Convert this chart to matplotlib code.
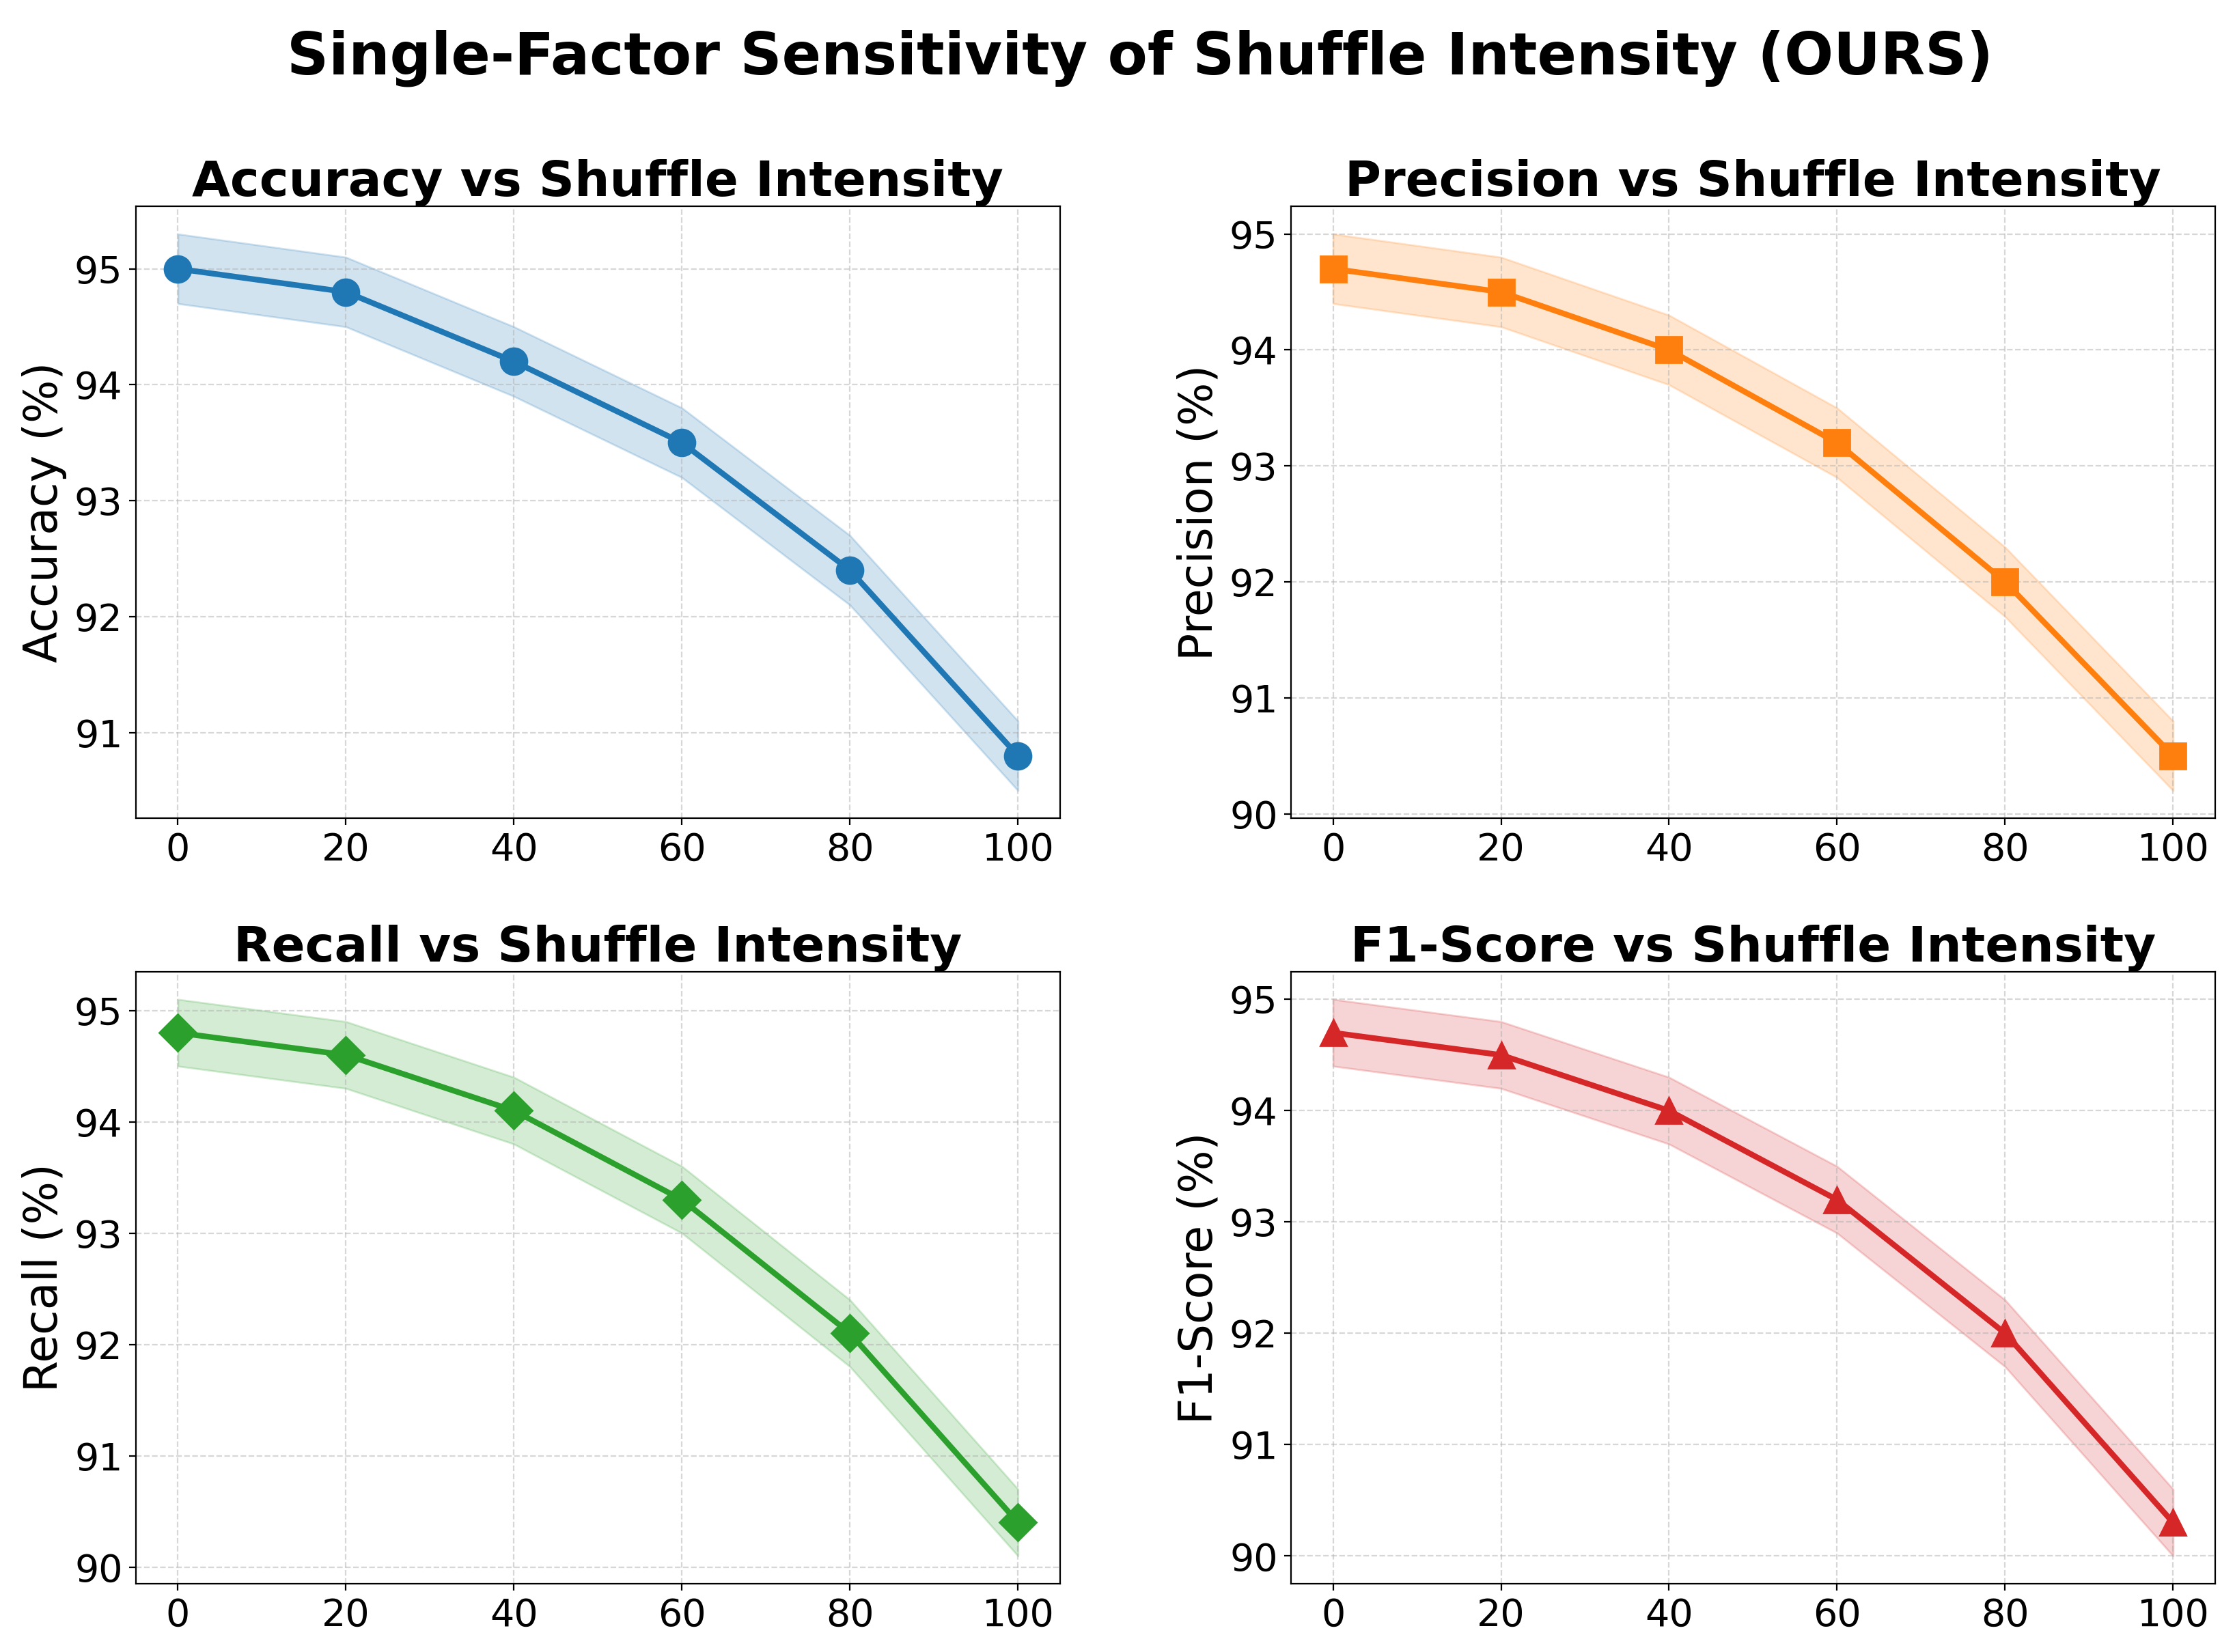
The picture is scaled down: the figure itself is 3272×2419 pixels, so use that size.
import numpy as np
import matplotlib
matplotlib.use("Agg")
import matplotlib.pyplot as plt

# Data
intensity = [0, 20, 40, 60, 80, 100]
accuracy = [95.0, 94.8, 94.2, 93.5, 92.4, 90.8]
precision = [94.7, 94.5, 94.0, 93.2, 92.0, 90.5]
recall = [94.8, 94.6, 94.1, 93.3, 92.1, 90.4]
f1_score = [94.7, 94.5, 94.0, 93.2, 92.0, 90.3]
band = 0.3

metrics = ["Accuracy", "Precision", "Recall", "F1-Score"]
series = [accuracy, precision, recall, f1_score]
colors = ["#1f77b4", "#ff7f0e", "#2ca02c", "#d62728"]
markers = ["o", "s", "D", "^"]


def main():
    fig, axes = plt.subplots(2, 2, figsize=(16.365, 12.095), dpi=200)
    fig.subplots_adjust(left=0.0608, right=0.9908, top=0.8752, bottom=0.0413,
                        wspace=0.25, hspace=0.25)

    for ax, name, vals, color, marker in zip(axes.flat, metrics, series, colors, markers):
        vals = np.array(vals)
        ax.fill_between(intensity, vals - band, vals + band, color=color, alpha=0.2)
        ax.plot(intensity, vals, color=color, marker=marker, lw=3, markersize=14)
        ax.set_title(f"{name} vs Shuffle Intensity", fontsize=26, fontweight="bold", pad=2)
        ax.set_ylabel(f"{name} (%)", fontsize=24)
        ax.set_xticks(intensity)
        ax.tick_params(labelsize=20)
        ax.grid(True, linestyle="--", alpha=0.5)

    fig.suptitle("Single-Factor Sensitivity of Shuffle Intensity (OURS)",
                 fontsize=30.5, fontweight="bold", x=0.51, y=0.982)
    fig.savefig("out.png", dpi=200)


if __name__ == "__main__":
    main()
